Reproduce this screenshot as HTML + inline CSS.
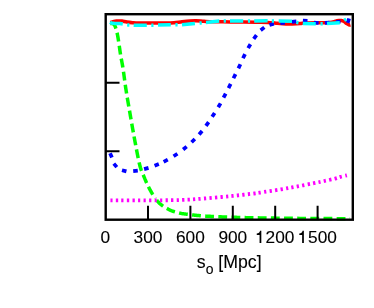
<!DOCTYPE html>
<html><head><meta charset="utf-8">
<style>
html,body{margin:0;padding:0;background:#fff;}
body{width:374px;height:308px;overflow:hidden;font-family:"Liberation Sans",sans-serif;}
svg{display:block;}
.t{filter:grayscale(1);}
text{font-family:"Liberation Sans",sans-serif;fill:#000;stroke:#000;stroke-width:0.12px;}
</style></head><body>
<svg width="374" height="308" viewBox="0 0 374 308">
<rect width="374" height="308" fill="#fff"/>
<g fill="none">
<path d="M110.40 22.70 C110.67 22.60 111.40 22.32 112.00 22.10 C112.60 21.88 113.27 21.59 114.00 21.40 C114.73 21.21 115.57 21.03 116.40 20.95 C117.23 20.87 118.07 20.88 119.00 20.90 C119.93 20.92 120.68 20.87 122.00 21.05 C123.32 21.23 125.15 21.73 126.90 22.00 C128.65 22.27 130.98 22.55 132.50 22.70 C134.02 22.85 133.08 22.87 136.00 22.90 C138.92 22.93 145.00 22.87 150.00 22.90 C155.00 22.93 162.00 23.12 166.00 23.10 C170.00 23.08 171.33 23.02 174.00 22.80 C176.67 22.58 179.33 22.10 182.00 21.80 C184.67 21.50 187.67 21.17 190.00 21.00 C192.33 20.83 193.67 20.75 196.00 20.80 C198.33 20.85 201.33 21.15 204.00 21.30 C206.67 21.45 209.33 21.63 212.00 21.70 C214.67 21.77 217.00 21.67 220.00 21.70 C223.00 21.73 224.00 21.82 230.00 21.90 C236.00 21.98 249.67 22.12 256.00 22.20 C262.33 22.28 264.67 22.23 268.00 22.40 C271.33 22.57 273.00 22.93 276.00 23.20 C279.00 23.47 283.33 23.88 286.00 24.00 C288.67 24.12 289.67 23.98 292.00 23.90 C294.33 23.82 297.67 23.67 300.00 23.50 C302.33 23.33 303.00 23.02 306.00 22.90 C309.00 22.78 314.67 22.82 318.00 22.80 C321.33 22.78 324.00 22.87 326.00 22.80 C328.00 22.73 328.67 22.60 330.00 22.40 C331.33 22.20 332.83 21.87 334.00 21.60 C335.17 21.33 336.17 20.98 337.00 20.80 C337.83 20.62 338.28 20.55 339.00 20.50 C339.72 20.45 340.47 20.33 341.30 20.50 C342.13 20.67 343.10 20.98 344.00 21.50 C344.90 22.02 345.80 23.02 346.70 23.60 C347.60 24.18 348.78 24.82 349.40 25.00 C350.02 25.18 350.23 24.75 350.40 24.70" stroke="#ff0000" stroke-width="3.5" stroke-linejoin="round"/>
<path d="M110.09 153.29 L111.91 157.51 M113.80 163.65 L116.80 167.15 M121.98 170.21 L126.42 171.39 M133.21 171.04 L137.79 170.56 M144.08 169.12 L148.52 167.88 M154.57 165.76 L158.83 164.04 M163.66 161.77 L167.74 159.63 M173.58 156.26 L177.42 153.74 M183.12 149.55 L186.68 146.65 M191.56 142.21 L194.84 138.99 M199.11 134.45 L202.09 130.95 M205.96 125.87 L208.64 122.13 M212.15 116.83 L214.65 112.97 M218.25 107.29 L220.55 103.31 M223.53 97.63 L225.67 93.57 M228.55 88.05 L230.65 83.95 M233.48 78.26 L235.52 74.14 M238.41 68.38 L240.39 64.22 M242.98 58.26 L245.02 54.14 M248.15 48.19 L250.45 44.21 M253.71 38.83 L256.49 35.17 M260.67 30.20 L264.33 27.40 M269.49 24.94 L273.91 23.66 M280.32 23.28 L284.88 22.72 M291.81 21.82 L296.39 21.38 M302.90 20.68 L307.50 20.92 M314.01 22.59 L318.59 23.01 M324.90 22.90 L329.50 22.70 M335.91 22.01 L340.49 21.59 M347.7 22.9 L349.1 18.5" stroke="#0000ff" stroke-width="3.7"/>
<path d="M110.40 23.40 L110.50 23.41 L110.62 23.43 L110.77 23.44 L110.93 23.45 L111.10 23.47 L111.29 23.48 L111.49 23.50 L111.69 23.52 L111.89 23.54 L112.10 23.57 L112.30 23.61 L112.50 23.65 L112.70 23.70 L112.88 23.76 L113.05 23.82 L113.20 23.90 L113.34 23.98 L113.47 24.05 L113.60 24.12 L113.71 24.20 L113.83 24.27 L113.94 24.35 L114.04 24.44 L114.14 24.54 L114.25 24.66 L114.35 24.78 L114.45 24.93 L114.55 25.09 L114.66 25.28 L114.77 25.49 L114.88 25.73 L115.00 26.00 L115.12 26.30 L115.25 26.63 L115.38 26.98 L115.52 27.36 L115.65 27.76 L115.79 28.18 L115.92 28.62 L116.06 29.07 L116.20 29.54 L116.34 30.01 L116.47 30.50 L116.60 30.99 L116.73 31.49 L116.86 32.00 L116.98 32.50 L117.10 33.00 L117.21 33.50 L117.32 34.00 L117.43 34.51 L117.53 35.02 L117.63 35.53 L117.72 36.05 L117.82 36.58 L117.91 37.12 L118.01 37.68 L118.10 38.24 L118.19 38.82 L118.29 39.42 L118.39 40.04 L118.49 40.67 L118.59 41.32 L118.70 42.00 L118.81 42.70 L118.92 43.43 L119.03 44.18 L119.14 44.96 L119.25 45.75 L119.37 46.56 L119.48 47.39 L119.60 48.23 L119.72 49.07 L119.84 49.92 L119.96 50.77 L120.08 51.63 L120.21 52.48 L120.34 53.33 L120.47 54.17 L120.60 55.00 L120.74 55.81 L120.87 56.60 L121.01 57.37 L121.15 58.13 L121.29 58.89 L121.44 59.64 L121.58 60.40 L121.73 61.17 L121.88 61.96 L122.03 62.77 L122.19 63.61 L122.35 64.48 L122.51 65.39 L122.67 66.34 L122.83 67.34 L123.00 68.40 L123.17 69.52 L123.34 70.70 L123.52 71.93 L123.70 73.22 L123.88 74.54 L124.06 75.89 L124.25 77.27 L124.44 78.67 L124.63 80.09 L124.82 81.51 L125.01 82.93 L125.21 84.35 L125.40 85.75 L125.60 87.13 L125.80 88.48 L126.00 89.80 L126.20 91.08 L126.39 92.32 L126.59 93.52 L126.78 94.70 L126.97 95.87 L127.16 97.03 L127.36 98.19 L127.56 99.36 L127.76 100.55 L127.97 101.76 L128.18 103.00 L128.41 104.29 L128.64 105.62 L128.88 107.01 L129.13 108.47 L129.40 110.00 L129.68 111.62 L129.97 113.32 L130.28 115.09 L130.60 116.93 L130.93 118.82 L131.26 120.76 L131.60 122.72 L131.95 124.71 L132.30 126.70 L132.65 128.69 L133.00 130.67 L133.35 132.63 L133.70 134.55 L134.04 136.43 L134.37 138.25 L134.70 140.00 L135.02 141.72 L135.35 143.45 L135.67 145.19 L136.00 146.92 L136.32 148.64 L136.65 150.34 L136.97 152.02 L137.29 153.66 L137.61 155.27 L137.93 156.83 L138.24 158.35 L138.54 159.80 L138.84 161.19 L139.13 162.51 L139.42 163.75 L139.70 164.90 L139.97 165.96 L140.24 166.93 L140.49 167.81 L140.75 168.62 L140.99 169.36 L141.23 170.05 L141.47 170.68 L141.71 171.27 L141.94 171.83 L142.16 172.36 L142.39 172.87 L142.61 173.38 L142.84 173.89 L143.06 174.41 L143.28 174.94 L143.50 175.50 L143.72 176.07 L143.94 176.62 L144.15 177.15 L144.36 177.67 L144.57 178.18 L144.77 178.68 L144.98 179.17 L145.18 179.65 L145.38 180.12 L145.58 180.59 L145.79 181.05 L145.99 181.50 L146.19 181.95 L146.39 182.40 L146.59 182.85 L146.80 183.30 L147.00 183.74 L147.21 184.18 L147.40 184.60 L147.60 185.02 L147.80 185.43 L147.99 185.84 L148.19 186.24 L148.39 186.64 L148.59 187.04 L148.79 187.44 L148.99 187.84 L149.20 188.24 L149.42 188.65 L149.64 189.06 L149.87 189.48 L150.10 189.90 L150.34 190.33 L150.58 190.76 L150.82 191.20 L151.07 191.64 L151.32 192.09 L151.57 192.53 L151.83 192.98 L152.09 193.43 L152.35 193.87 L152.63 194.32 L152.90 194.77 L153.19 195.22 L153.48 195.67 L153.78 196.11 L154.09 196.56 L154.40 197.00 L154.72 197.44 L155.04 197.89 L155.36 198.34" stroke="#00ff00" stroke-width="3.5" stroke-dasharray="8.9 4.25" stroke-dashoffset="0.4"/>
<path d="M156.70 200.14 L157.04 200.58 L157.40 201.03 L157.78 201.47 L158.16 201.90 L158.56 202.34 L158.97 202.76 L159.39 203.18 L159.84 203.60 L160.30 204.00 L160.78 204.40 L161.29 204.80 L161.82 205.20 L162.36 205.60 L162.92 205.99 L163.49 206.38 L164.08 206.76 L164.67 207.14 L165.27 207.51 L165.88 207.87 L166.48 208.22 L167.09 208.56 L167.70 208.89 L168.31 209.21 L168.91 209.51 L169.50 209.80 L170.09 210.07 L170.68 210.34 L171.27 210.59 L171.86 210.82 L172.46 211.05 L173.05 211.27 L173.65 211.47 L174.25 211.67 L174.85 211.86 L175.45 212.04 L176.06 212.21 L176.66 212.38 L177.27 212.54 L177.88 212.70 L178.49 212.85 L179.10 213.00 L179.72 213.14 L180.34 213.27 L180.97 213.39 L181.60 213.51 L182.23 213.61 L182.87 213.71 L183.51 213.80 L184.14 213.89 L184.78 213.97 L185.41 214.05 L186.04 214.13 L186.67 214.20 L187.29 214.27 L187.90 214.35 L188.50 214.42 L189.10 214.50 L189.68 214.58 L190.25 214.65 L190.81 214.72 L191.36 214.79 L191.90 214.86 L192.43 214.92 L192.97 214.98 L193.50 215.04 L194.03 215.10 L194.57 215.16 L195.12 215.22 L195.67 215.28 L196.23 215.33 L196.80 215.39 L197.39 215.44 L198.00 215.50 L198.60 215.56 L199.16 215.61 L199.69 215.66 L200.22 215.71 L200.73 215.76 L201.26 215.81 L201.79 215.85 L202.35 215.90 L202.94 215.95 L203.58 215.99 L204.26 216.04 L205.01 216.09 L205.83 216.14 L206.72 216.19 L207.71 216.24 L208.80 216.30 L210.00 216.36 L211.30 216.42 L212.70 216.48 L214.18 216.55 L215.74 216.61 L217.35 216.68 L219.02 216.75 L220.73 216.81 L222.47 216.88 L224.22 216.95 L225.98 217.01 L227.74 217.07 L229.48 217.13 L231.20 217.19 L232.87 217.25 L234.50 217.30 L236.07 217.35 L237.60 217.39 L239.09 217.44 L240.55 217.48 L242.00 217.52 L243.44 217.56 L244.89 217.60 L246.36 217.63 L247.85 217.67 L249.38 217.70 L250.97 217.73 L252.61 217.77 L254.32 217.80 L256.12 217.83 L258.01 217.87 L260.00 217.90 L262.08 217.93 L264.24 217.97 L266.46 218.00 L268.75 218.04 L271.09 218.07 L273.50 218.10 L275.96 218.14 L278.47 218.17 L281.03 218.20 L283.63 218.23 L286.27 218.26 L288.96 218.29 L291.67 218.32 L294.42 218.35 L297.20 218.37 L300.00 218.40 L302.94 218.42 L306.11 218.45 L309.47 218.47 L312.97 218.50 L316.56 218.52 L320.21 218.54 L323.87 218.56 L327.50 218.58 L331.05 218.60 L334.47 218.62 L337.73 218.64 L340.78 218.65 L343.58 218.67 L346.07 218.68 L348.23 218.69 L350.00 218.70" stroke="#00ff00" stroke-width="3.5" stroke-dasharray="8.85 4.3"/>
<path d="M110.00 22.30 L111.50 23.10 L115.00 23.40 L120.00 23.60 L122.80 24.09 M133.70 25.28 L134.00 25.30 L146.00 25.20 L146.80 25.19 M158.05 25.10 L170.00 24.80 L170.80 24.80 M182.00 24.80 L194.90 23.61 M206.00 22.40 L219.20 21.05 L219.25 21.05 M230.00 21.00 L243.00 21.00 L243.20 21.00 M254.20 20.91 L255.00 20.90 L267.00 20.80 L267.60 20.81 M278.70 21.00 L279.00 21.00 L292.00 21.30 M302.80 23.37 L303.00 23.40 L315.00 23.70 L315.80 23.69 M327.00 23.60 L339.80 22.71 M127.20 24.82 L128.30 25.00 L129.40 25.06 M151.30 25.16 L153.50 25.14 M175.40 24.80 L176.50 24.80 L177.60 24.80 M199.55 23.11 L200.60 23.00 L201.75 22.87 M223.70 21.03 L225.90 21.02 M247.90 20.96 L250.10 20.94 M271.80 20.88 L274.00 20.92 M296.30 22.26 L297.40 22.50 L298.50 22.68 M320.50 23.65 L322.70 23.64 M344.2 20.3 L346.2 19.3" stroke="#00ffff" stroke-width="3.5"/>
<path d="M110.45 200.40 C117.04 200.38 139.74 200.33 150.00 200.30 C160.26 200.27 165.67 200.30 172.00 200.20 C178.33 200.10 183.47 199.92 188.00 199.70 C192.53 199.48 193.67 199.35 199.20 198.90 C204.73 198.45 214.78 197.58 221.20 197.00 C227.62 196.42 232.22 195.98 237.70 195.40 C243.18 194.82 250.47 193.95 254.10 193.50 C257.73 193.05 254.98 193.40 259.50 192.70 C264.02 192.00 274.88 190.35 281.20 189.30 C287.52 188.25 291.97 187.42 297.40 186.40 C302.83 185.38 309.30 184.10 313.80 183.20 C318.30 182.30 320.85 181.77 324.40 181.00 C327.95 180.23 332.43 179.28 335.10 178.60 C337.77 177.92 338.43 177.45 340.40 176.90 C342.37 176.35 345.82 175.57 346.90 175.30" stroke="#ff00ff" stroke-width="3.8" stroke-dasharray="2.25 3.255"/>
</g>
<rect x="105.7" y="14.2" width="247.1" height="205.5" fill="none" stroke="#000" stroke-width="2.4"/>
<g stroke="#000" stroke-width="2" fill="none">
<path d="M148.00 219 V205.8 M190.40 219 V205.8 M232.80 219 V205.8 M275.20 219 V205.8 M317.60 219 V205.8"/>
<path d="M106 82.75 H119.5 M106 151.2 H119.5"/>
</g>
<g class="t"><g font-size="17.3" text-anchor="middle">
<text x="105.40" y="243.1">0</text>
<text x="148.00" y="243.1">300</text>
<text x="190.40" y="243.1">600</text>
<text x="232.80" y="243.1">900</text>
<text x="265.6" y="243.1" text-anchor="start">200</text>
<text x="308.1" y="243.1" text-anchor="start">500</text>
<path d="M261.32 230.7 L260.00 230.7 C259.75 232.4 258.55 233.4 256.75 233.5 L256.75 234.9 L259.58 234.9 L259.58 243.1 L261.32 243.1 Z M303.87 230.7 L302.55 230.7 C302.30 232.4 301.10 233.4 299.30 233.5 L299.30 234.9 L302.13 234.9 L302.13 243.1 L303.87 243.1 Z" fill="#000" stroke="none"/>
</g>
<text transform="translate(196.7 267.6) scale(0.978 1)" x="0" y="0" font-size="18.1">s<tspan font-size="14.3" dy="6.3" dx="0.1">o</tspan><tspan dy="-6.3"> [Mpc]</tspan></text></g>
</svg>
</body></html>
